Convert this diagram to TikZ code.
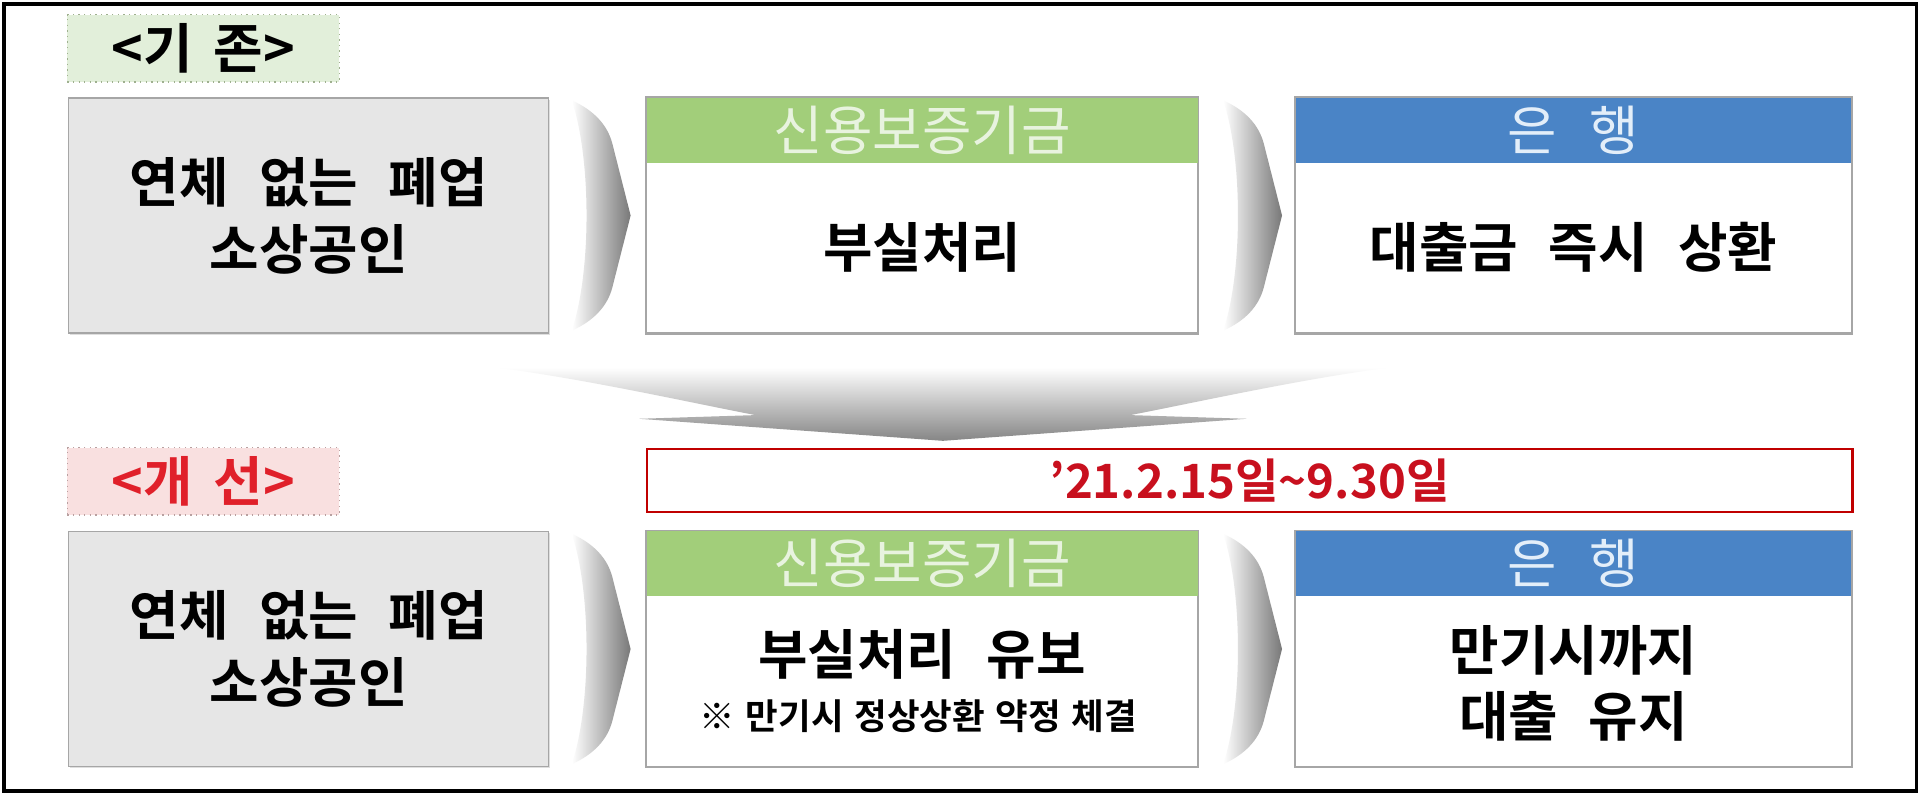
\documentclass[tikz,border=0pt]{standalone}
\usepackage{fontspec}
\setmainfont{Noto Sans CJK KR}[BoldFont={Noto Sans CJK KR Bold},WordSpace=2.5]
\usetikzlibrary{shadows}
\definecolor{boxgray}{HTML}{E6E6E6}
\definecolor{boxline}{HTML}{A6A6A6}
\definecolor{hdrgreen}{HTML}{A2CE7A}
\definecolor{hdrgreentxt}{HTML}{E8F3DF}
\definecolor{hdrblue}{HTML}{4A84C6}
\definecolor{hdrbluetxt}{HTML}{E3EEF9}
\definecolor{lblgreen}{HTML}{E2EFDA}
\definecolor{lblgreenline}{HTML}{9FB08F}
\definecolor{lblpink}{HTML}{F9E0E0}
\definecolor{lblpinkline}{HTML}{B8A0A0}
\definecolor{datered}{HTML}{C00000}
\definecolor{datetxt}{HTML}{C8101E}
\definecolor{labelred}{HTML}{E0202A}
\definecolor{arrowgray}{HTML}{787878}
\newcommand\rchev[2]{%
  \begin{scope}[shift={(#1,#2)}]
    \shade[left color=white, right color=arrowgray]
      (0,0) .. controls (18,8) and (29,20) .. (33,35) -- (48,94) -- (33,153)
      .. controls (29,168) and (18,180) .. (0,188)
      .. controls (16,140) and (16,48) .. (0,0) -- cycle;
  \end{scope}}
\begin{document}
\begin{tikzpicture}[x=0.02cm,y=-0.02cm,
  bigtxt/.style={font=\fontsize{25}{31}\selectfont\bfseries, text=black, align=center, inner sep=0pt},
  smalltxt/.style={font=\fontsize{16.5}{20}\selectfont\bfseries, text=black, inner sep=0pt},
  hdrtxt/.style={font=\fontsize{25}{28}\selectfont, inner sep=0pt},
  panel/.style={draw=boxline, line width=0.7pt, minimum width=#1, minimum height=3.84cm, inner sep=0pt,
    drop shadow={shadow xshift=0.8pt, shadow yshift=-0.8pt, opacity=0.25}},
  hdrbar/.style={minimum width=#1, minimum height=1.06cm, inner sep=0pt, anchor=north},
  lblbox/.style={minimum width=4.44cm, minimum height=1.1cm, inner sep=0pt, line width=0.6pt, dotted,
    font=\fontsize{25}{28}\selectfont\bfseries},
]
\useasboundingbox (0,0) rectangle (1568,649);
\fill[white] (0,0) rectangle (1568,649);

% labels
\node[lblbox, draw=lblgreenline, fill=lblgreen, text=black] (lbl1) at (166,39.5) {<기\hspace{0.4em}존>};
\node[lblbox, draw=lblpinkline, fill=lblpink, text=labelred] (lbl2) at (166,393) {<개\hspace{0.4em}선>};

% ---- top row ----
\node[panel=7.84cm, fill=boxgray] (g1) at (252,176) {};
\node[bigtxt] (g1t) at (g1.center) {연체 없는 폐업\\소상공인};

\node[panel=9.0cm, fill=white] (m1) at (753,176) {};
\node[hdrbar=9.0cm, fill=hdrgreen] (m1h) at (m1.north) {};
\draw[boxline, line width=0.7pt] (m1.north west) rectangle (m1.south east);
\node[hdrtxt, text=hdrgreentxt] (m1ht) at (m1h.center) {신용보증기금};
\node[bigtxt] (m1t) at (753,202) {부실처리};

\node[panel=9.08cm, fill=white] (r1) at (1285,176) {};
\node[hdrbar=9.08cm, fill=hdrblue] (r1h) at (r1.north) {};
\draw[boxline, line width=0.7pt] (r1.north west) rectangle (r1.south east);
\node[hdrtxt, text=hdrbluetxt] (r1ht) at (r1h.center) {은\hspace{0.6em}행};
\node[bigtxt] (r1t) at (1285,202) {대출금 즉시 상환};

\rchev{467}{82}
\rchev{999}{82}

% ---- big down arrow ----
\shade[top color=white, bottom color=arrowgray!90]
  (405,300) -- (1135,300)
  .. controls (1060,310) and (980,328) .. (923,339)
  -- (1018,342) -- (770,360) -- (522,342) -- (617,339)
  .. controls (560,328) and (480,310) .. (405,300) -- cycle;

% ---- date bar ----
\node[draw=datered, line width=1pt, fill=white, minimum width=19.7cm, minimum height=1.02cm, inner sep=0pt] (date) at (1020.5,392.5) {};
\node[font=\fontsize{22}{26}\selectfont\bfseries, text=datetxt, inner sep=0pt] (datet) at (date.center) {’21.2.15일\textasciitilde 9.30일};

% ---- bottom row ----
\node[panel=7.84cm, fill=boxgray] (g2) at (252,530) {};
\node[bigtxt] (g2t) at (g2.center) {연체 없는 폐업\\소상공인};

\node[panel=9.0cm, fill=white] (m2) at (753,530) {};
\node[hdrbar=9.0cm, fill=hdrgreen] (m2h) at (m2.north) {};
\draw[boxline, line width=0.7pt] (m2.north west) rectangle (m2.south east);
\node[hdrtxt, text=hdrgreentxt] (m2ht) at (m2h.center) {신용보증기금};
\node[bigtxt] (m2t) at (753,534) {부실처리 유보};
\node[smalltxt] (m2s) at (750,585) {\spaceskip=0.3em\relax ※ 만기시 정상상환 약정 체결};

\node[panel=9.08cm, fill=white] (r2) at (1285,530) {};
\node[hdrbar=9.08cm, fill=hdrblue] (r2h) at (r2.north) {};
\draw[boxline, line width=0.7pt] (r2.north west) rectangle (r2.south east);
\node[hdrtxt, text=hdrbluetxt] (r2ht) at (r2h.center) {은\hspace{0.6em}행};
\node[bigtxt] (r2t) at (1285,558) {만기시까지\\대출 유지};

\rchev{467}{436}
\rchev{999}{436}

% outer frame
\draw[black, line width=1.7pt] (3,3) rectangle (1565,646);
\end{tikzpicture}
\end{document}
